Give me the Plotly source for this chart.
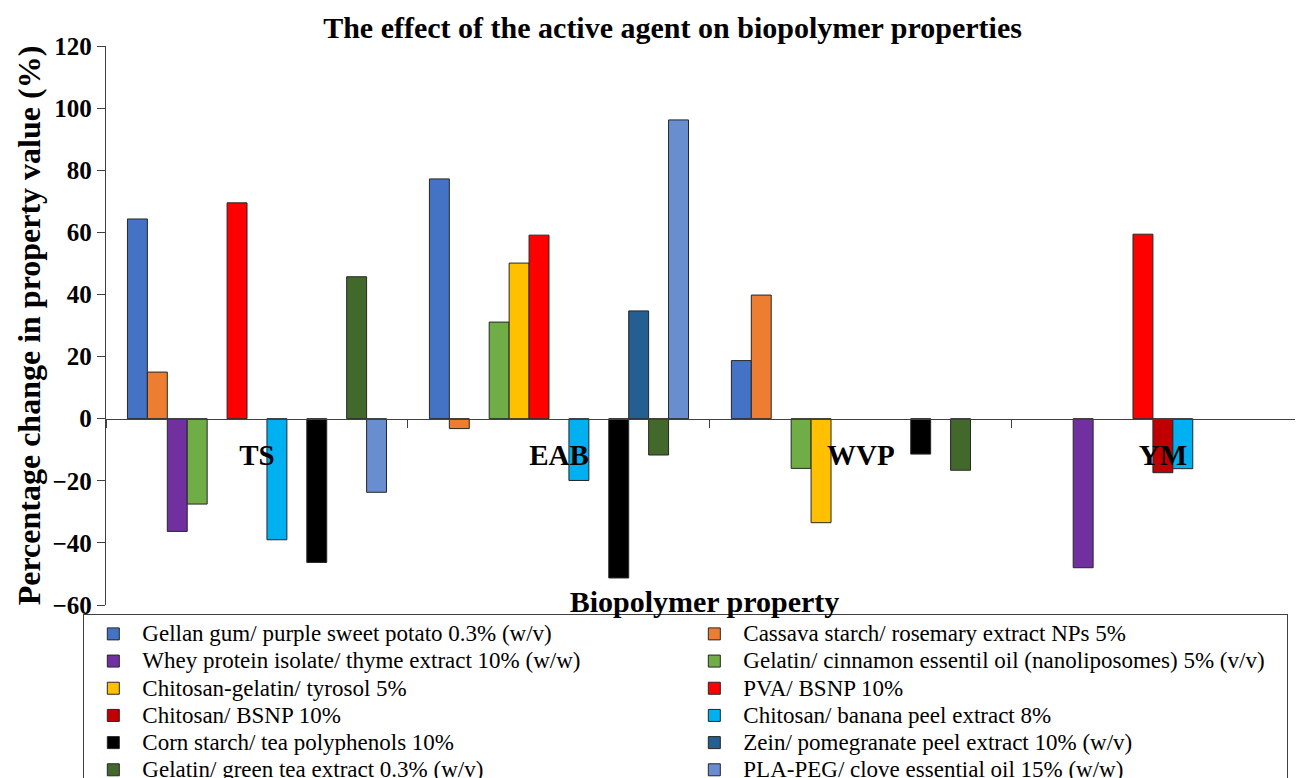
import plotly.graph_objects as go

categories = ["TS", "EAB", "WVP", "YM"]

series_names = [
    "Gellan gum/ purple sweet potato 0.3% (w/v)",
    "Cassava starch/ rosemary extract NPs 5%",
    "Whey protein isolate/ thyme extract 10% (w/w)",
    "Gelatin/ cinnamon essentil oil (nanoliposomes) 5% (v/v)",
    "Chitosan-gelatin/ tyrosol 5%",
    "PVA/ BSNP 10%",
    "Chitosan/ BSNP 10%",
    "Chitosan/ banana peel extract 8%",
    "",  # empty series slot (no data, no legend entry)
    "Corn starch/ tea polyphenols 10%",
    "Zein/ pomegranate peel extract 10% (w/v)",
    "Gelatin/ green tea extract 0.3% (w/v)",
    "PLA-PEG/ clove essential oil 15% (w/w)",
]

gellan = [64.3, 77.2, 18.7, None]
cassava = [15.0, -3.2, 39.8, None]
whey = [-36.3, None, None, -48.0]
gelatin_cinnamon = [-27.5, 31.1, -16.0, None]
chitosan_gelatin = [None, 50.1, -33.5, None]
pva_bsnp = [69.5, 59.1, None, 59.4]
chitosan_bsnp = [None, None, None, -17.4]
chitosan_banana = [-39.0, -19.9, None, -16.1]
empty_series = [None, None, None, None]
corn_starch = [-46.3, -51.3, -11.4, None]
zein = [None, 34.7, None, None]
gelatin_green_tea = [45.7, -11.7, -16.6, None]
pla_peg = [-23.7, 96.2, None, None]

series_values = [gellan, cassava, whey, gelatin_cinnamon, chitosan_gelatin,
                 pva_bsnp, chitosan_bsnp, chitosan_banana, empty_series,
                 corn_starch, zein, gelatin_green_tea, pla_peg]

colors = ["#4472C4", "#ED7D31", "#7030A0", "#70AD47", "#FFC000", "#FF0000",
          "#C00000", "#00B0F0", "#FFFFFF", "#000000", "#255E91", "#43682B",
          "#698ED0"]

y_ticks = [-60, -40, -20, 0, 20, 40, 60, 80, 100, 120]

SERIF = "Liberation Serif"
LEGEND_TEXT_PX = 23

fig = go.Figure()
for name, vals, col in zip(series_names, series_values, colors):
    label = f'<span style="font-size:{LEGEND_TEXT_PX}px">{name}</span>' if name else ""
    fig.add_trace(go.Bar(
        x=categories, y=vals, name=label,
        marker=dict(color=col, line=dict(color="#262626", width=1)),
        showlegend=bool(name),
        hovertemplate=f"{name}<br>%{{x}}: %{{y}}%<extra></extra>",
    ))

# invisible helper trace so the bottom axis (carrying the x title) is drawn
fig.add_trace(go.Scatter(x=[None], y=[None], xaxis="x2", yaxis="y",
                         showlegend=False, hoverinfo="skip"))

# the page body has an 8px margin, so the figure is 8px smaller than the window
W, H = 1295, 770
ml, mt = 98, 38
plot_h = 559
mb = H - mt - plot_h

fig.update_layout(
    width=W, height=H,
    margin=dict(l=ml, r=0, t=mt, b=mb, pad=0, autoexpand=False),
    paper_bgcolor="white", plot_bgcolor="white",
    barmode="group", bargap=0.142, bargroupgap=0,
    font=dict(family=SERIF, color="black"),
    title=dict(text="<b>The effect of the active agent on biopolymer properties</b>",
               x=0.4733, xref="paper", xanchor="center", y=0.975, yanchor="middle",
               font=dict(size=30, family=SERIF, color="black")),
    xaxis=dict(
        type="category", categoryorder="array", categoryarray=categories,
        range=[-0.5, 3.464],
        anchor="free", position=60 / 180,
        showline=True, linecolor="#404040", linewidth=1.3,
        ticks="outside", tickson="boundaries", ticklen=8, tickcolor="#404040",
        tickwidth=1.3,
        tickfont=dict(size=29, family=SERIF, color="black", weight="bold"),
        ticklabelstandoff=10,
        showgrid=False, zeroline=False,
    ),
    xaxis2=dict(
        overlaying="x", anchor="free", position=0.0257, side="bottom",
        range=[0, 1], showline=False, showticklabels=False, ticks="",
        showgrid=False, zeroline=False,
        title=dict(text="<b>Biopolymer property</b>", standoff=0,
                   font=dict(size=30, family=SERIF, color="black")),
    ),
    yaxis=dict(
        range=[-60, 120], tickvals=y_ticks,
        showline=True, linecolor="#404040", linewidth=1.3,
        ticks="outside", ticklen=8, tickcolor="#404040", tickwidth=1.3,
        tickfont=dict(size=25, family=SERIF, color="black", weight="bold"),
        showgrid=False, zeroline=False,
        title=dict(text="<b>Percentage change in property value (%)</b>",
                   standoff=2,
                   font=dict(size=32, family=SERIF, color="black")),
    ),
    legend=dict(
        orientation="h", x=-0.0192, xanchor="left", y=-0.0161, yanchor="top",
        bgcolor="white", bordercolor="#404040", borderwidth=1.3,
        font=dict(size=18.6, family=SERIF, color="black"),
        entrywidth=538, entrywidthmode="pixels", itemwidth=48,
        traceorder="normal", tracegroupgap=0,
    ),
)

fig.write_html("out.html")
